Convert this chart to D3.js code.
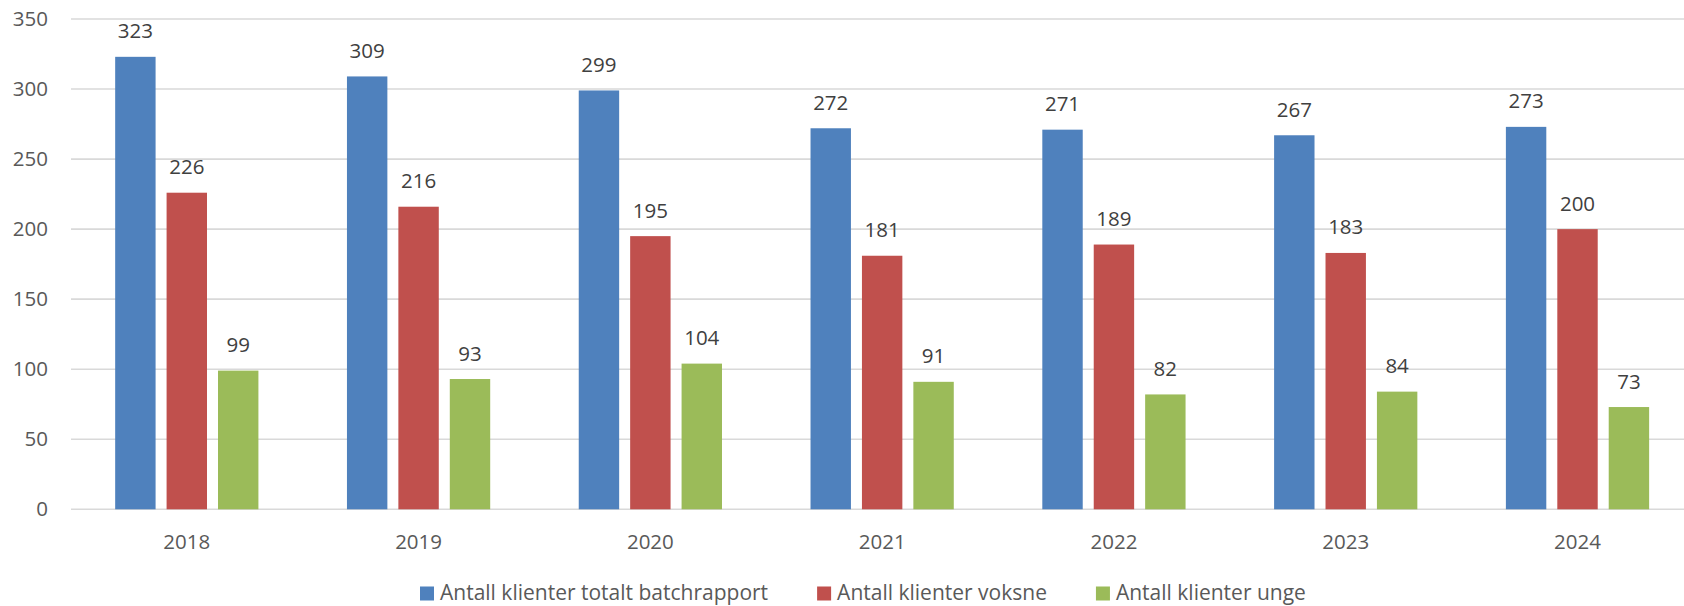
<!DOCTYPE html>
<html>
<head>
<meta charset="utf-8">
<script src="https://cdn.jsdelivr.net/npm/d3@7"></script>
<style>
  html, body { margin: 0; padding: 0; background: #fff; }
  svg { display: block; }
  text { font-family: "Open Sans", sans-serif; }
</style>
</head>
<body>
<script>
const categories = ["2018", "2019", "2020", "2021", "2022", "2023", "2024"];
const seriesNames = ["Antall klienter totalt batchrapport", "Antall klienter voksne", "Antall klienter unge"];
const totalt = [323, 309, 299, 272, 271, 267, 273];
const voksne = [226, 216, 195, 181, 189, 183, 200];
const unge = [99, 93, 104, 91, 82, 84, 73];
const yTicks = [0, 50, 100, 150, 200, 250, 300, 350];
const colors = ["#4f81bd", "#c0504d", "#9bbb59"];

const seriesValues = [totalt, voksne, unge];
const W = 1684, H = 606;

const svg = d3.select("body").append("svg").attr("width", W).attr("height", H);

const x = d3.scaleBand().domain(categories).range([70.9, 1693.4]).paddingInner(0.382).paddingOuter(0.191);
const xs = d3.scaleBand().domain(seriesNames).range([0, x.bandwidth()]).paddingInner(0.214).paddingOuter(0);
const y = d3.scaleLinear().domain([0, 350]).range([509.3, 19]);

// gridlines
svg.append("g").selectAll("line").data(yTicks).join("line")
  .attr("x1", 71).attr("x2", W)
  .attr("y1", d => y(d)).attr("y2", d => y(d))
  .attr("stroke", "#d9d9d9").attr("stroke-width", 1.6);

// y axis labels
const yAxis = d3.axisLeft(y).tickValues(yTicks).tickSize(0).tickPadding(0);
const gy = svg.append("g").attr("transform", "translate(48,0)").call(yAxis);
gy.select(".domain").remove();
gy.selectAll("text").attr("font-size", 20.5).attr("fill", "#595959").attr("font-family", "Open Sans, sans-serif");

// x axis labels
const xAxis = d3.axisBottom(x).tickSize(0).tickPadding(0);
const gx = svg.append("g").attr("transform", "translate(0,549)").call(xAxis);
gx.select(".domain").remove();
gx.selectAll("text").attr("font-size", 20.5).attr("fill", "#595959").attr("font-family", "Open Sans, sans-serif").attr("dy", 0);

// bars
const groups = svg.append("g").selectAll("g").data(categories).join("g")
  .attr("transform", d => `translate(${x(d)},0)`);

groups.each(function(cat, ci) {
  const g = d3.select(this);
  seriesNames.forEach((s, si) => {
    const v = seriesValues[si][ci];
    g.append("rect")
      .attr("x", xs(s)).attr("width", xs.bandwidth())
      .attr("y", y(v)).attr("height", y(0) - y(v))
      .attr("fill", colors[si]);
    g.append("text")
      .attr("x", xs(s) + xs.bandwidth() / 2)
      .attr("y", y(v) - 18.5)
      .attr("text-anchor", "middle")
      .attr("font-size", 20.5).attr("fill", "#404040")
      .text(v);
  });
});

// legend
const lg = svg.append("g");
let lx = 420;
seriesNames.forEach((s, i) => {
  lg.append("rect").attr("x", lx).attr("y", 586.5).attr("width", 14).attr("height", 14).attr("fill", colors[i]);
  const t = lg.append("text").attr("x", lx + 20).attr("y", 600.3)
    .attr("font-size", 21).attr("fill", "#595959").text(s);
  lx += 20 + t.node().getComputedTextLength() + 49;
});
</script>
</body>
</html>
